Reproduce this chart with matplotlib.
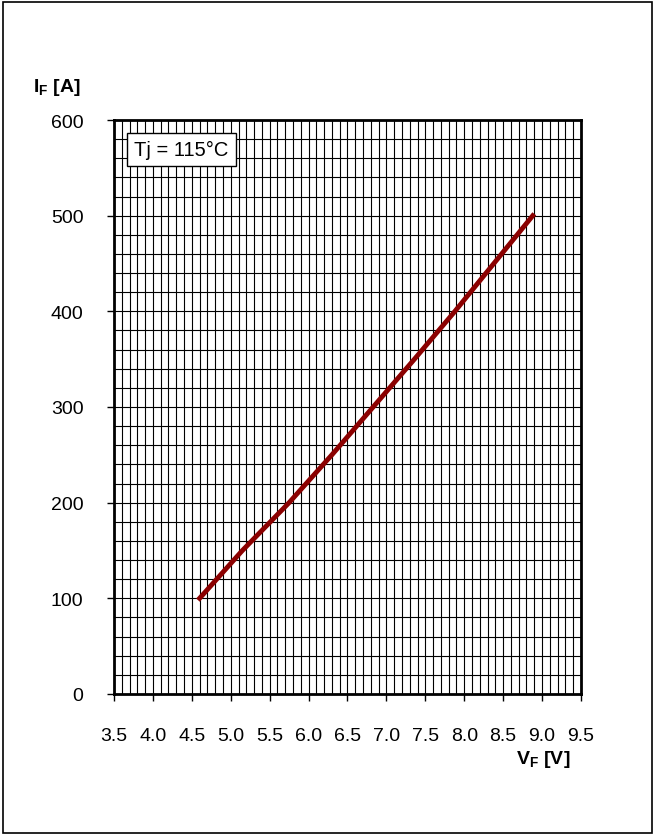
import numpy as np
import matplotlib.pyplot as plt
from matplotlib.patches import Rectangle

plt.rcParams['font.family'] = ['Liberation Sans', 'DejaVu Sans']
plt.rcParams['mathtext.fontset'] = 'custom'
plt.rcParams['mathtext.rm'] = 'Liberation Sans'
plt.rcParams['mathtext.bf'] = 'Liberation Sans:bold'

# forward characteristic
vf = [4.6, 5.15, 5.75, 6.3, 6.83, 7.36, 7.88, 8.38, 8.88]
i_f = [100, 150, 200, 250, 300, 350, 400, 450, 500]

x_ticks = np.arange(3.5, 9.51, 0.5)
y_ticks = [0, 100, 200, 300, 400, 500, 600]

fig = plt.figure(figsize=(6.55, 8.37), dpi=100)
ax = fig.add_axes([0.174, 0.1697, 0.713, 0.6857])

ax.set_xlim(3.5, 9.5)
ax.set_ylim(0, 600)
ax.set_xticks(x_ticks)
ax.set_xticklabels(['%.1f' % v for v in x_ticks])
ax.set_yticks(y_ticks)
ax.set_xticks(np.arange(3.5, 9.51, 0.1), minor=True)
ax.set_yticks(np.arange(0, 601, 20), minor=True)
ax.grid(True, which='both', color='black', linewidth=0.8)
ax.tick_params(which='minor', length=0)
ax.tick_params(which='major', length=5, width=1, labelsize=14)
ax.tick_params(axis='x', pad=19)
ax.tick_params(axis='y', pad=17)
for s in ax.spines.values():
    s.set_linewidth(2)
ax.set_axisbelow(True)

ax.plot(vf, i_f, color='#8b0000', linewidth=3.5, zorder=3)

ax.text(3.76, 569, 'Tj = 115°C', fontsize=14.5, ha='left', va='center', zorder=4,
        bbox=dict(boxstyle='square,pad=0.35', facecolor='white', edgecolor='black', linewidth=1))

fig.text(33 / 655, 1 - 87 / 837, r'$\mathbf{I}_\mathbf{F}$ [A]', fontsize=14, fontweight='bold',
         ha='left', va='center')
fig.text(543 / 655, 1 - 760 / 837, r'$\mathbf{V}_\mathbf{F}$ [V]', fontsize=14, fontweight='bold',
         ha='center', va='center')

# outer frame
fig.patches.append(Rectangle((0.004, 0.003), 0.992, 0.994, transform=fig.transFigure,
                             fill=False, edgecolor='black', linewidth=1.2))

fig.savefig('out.png', dpi=100)
